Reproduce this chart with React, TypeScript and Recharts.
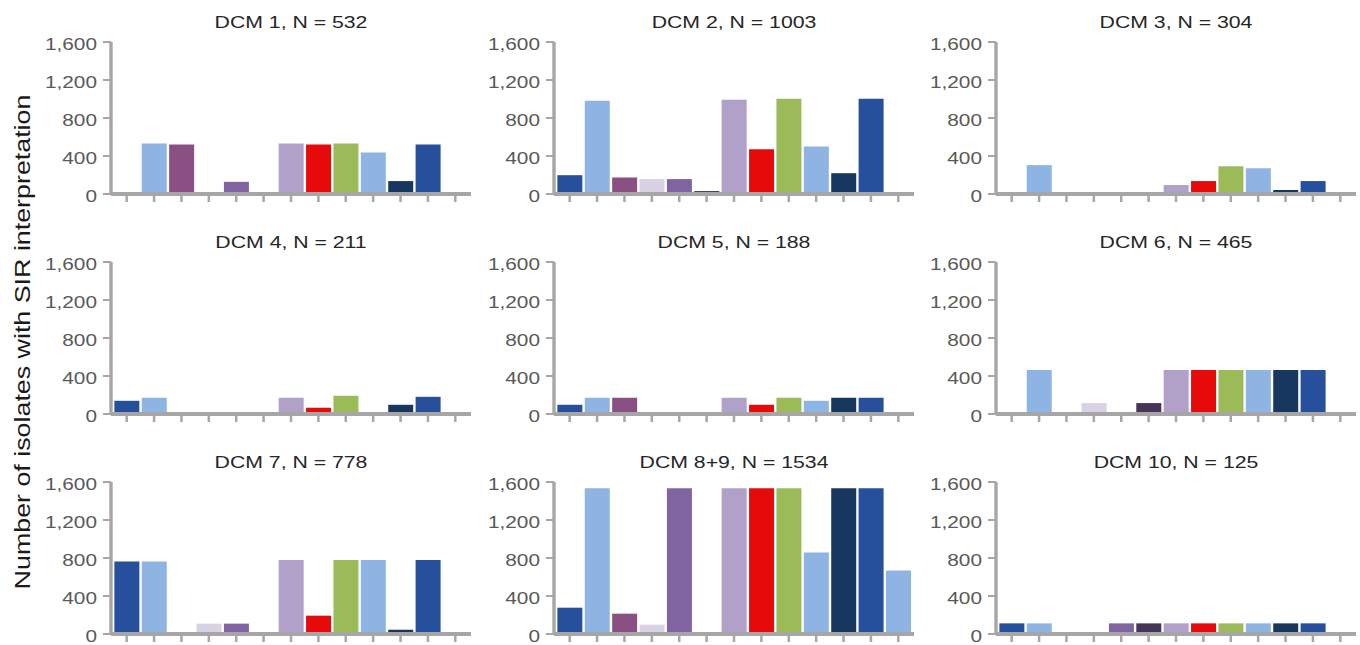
import React from 'react';
import { BarChart, Bar, XAxis, YAxis, Cell } from 'recharts';

// 13 antimicrobial slots, same order and colour in every panel
const categories = ['A1', 'A2', 'A3', 'A4', 'A5', 'A6', 'A7', 'A8', 'A9', 'A10', 'A11', 'A12', 'A13'];
const barColors = [
  '#264f9c', '#8eb4e3', '#8b5083', '#d9d2e5', '#8064a2', '#453659', '#b1a0c7',
  '#e60a0a', '#9bbb59', '#8eb4e3', '#17375e', '#264f9c', '#8eb4e3',
];

const panelTitles = [
  'DCM 1, N = 532', 'DCM 2, N = 1003', 'DCM 3, N = 304',
  'DCM 4, N = 211', 'DCM 5, N = 188', 'DCM 6, N = 465',
  'DCM 7, N = 778', 'DCM 8+9, N = 1534', 'DCM 10, N = 125',
];

const dcm1 = [0, 532, 522, 0, 128, 0, 532, 522, 532, 438, 136, 522, 0];
const dcm2 = [198, 981, 174, 157, 157, 31, 992, 470, 1003, 501, 219, 1003, 0];
const dcm3 = [0, 304, 0, 0, 0, 0, 94, 136, 292, 271, 42, 136, 0];
const dcm4 = [139, 171, 0, 0, 0, 0, 171, 66, 192, 14, 97, 181, 0];
const dcm5 = [97, 171, 171, 0, 0, 0, 171, 97, 171, 139, 171, 171, 0];
const dcm6 = [0, 462, 0, 115, 0, 115, 462, 462, 462, 462, 462, 462, 0];
const dcm7 = [763, 763, 0, 109, 109, 0, 778, 193, 778, 778, 45, 778, 0];
const dcm89 = [277, 1534, 214, 98, 1534, 0, 1534, 1534, 1534, 859, 1534, 1534, 669];
const dcm10 = [112, 112, 0, 0, 112, 112, 112, 112, 112, 112, 112, 112, 0];

const panelValues = [dcm1, dcm2, dcm3, dcm4, dcm5, dcm6, dcm7, dcm89, dcm10];

const yTicks = [0, 400, 800, 1200, 1600];
const yLabel = 'Number of isolates with SIR interpretation';

const FONT = '"Liberation Sans", Arial, sans-serif';
const AXIS_GREY = '#a6a6a6';
const COL_X = [0, 443, 885];
const ROW_Y = [0, 220, 440];

const YTick = (props: any) => {
  const { x, y, payload } = props;
  return (
    <text
      transform={`translate(${x},${y + 2.5}) scale(1.3,1)`}
      textAnchor="end"
      dy="0.355em"
      fill="#595959"
      fontSize={16}
      fontFamily={FONT}
    >
      {Number(payload.value).toLocaleString('en-US')}
    </text>
  );
};

// x axis keeps its tick marks but shows no labels
const NoLabel = () => <g />;

function Panel({ values }: { values: number[] }) {
  const data = categories.map((name, i) => ({ name, value: values[i] }));
  return (
    <BarChart
      width={471}
      height={216}
      data={data}
      margin={{ top: 42, right: 0, bottom: 12, left: 0 }}
      barCategoryGap="5%"
    >
      <XAxis
        dataKey="name"
        padding={{ left: 2, right: 2 }}
        tick={NoLabel}
        interval={0}
        tickSize={8}
        height={10}
        axisLine={{ stroke: AXIS_GREY, strokeWidth: 4 }}
        tickLine={{ stroke: AXIS_GREY, strokeWidth: 2.5 }}
      />
      <YAxis
        width={111}
        domain={[0, 1600]}
        ticks={yTicks}
        interval={0}
        tickSize={8}
        tickMargin={6}
        tick={<YTick />}
        axisLine={{ stroke: AXIS_GREY, strokeWidth: 3.4 }}
        tickLine={{ stroke: AXIS_GREY, strokeWidth: 2 }}
      />
      <Bar dataKey="value" isAnimationActive={false}>
        {data.map((d, i) => (
          <Cell key={d.name} fill={barColors[i]} />
        ))}
      </Bar>
    </BarChart>
  );
}

export default function App() {
  return (
    <div style={{ position: 'absolute', left: 0, top: 0, width: 1360, height: 645, background: '#fff' }}>
      {panelValues.map((vals, i) => (
        <div
          key={panelTitles[i]}
          style={{ position: 'absolute', left: COL_X[i % 3], top: ROW_Y[Math.floor(i / 3)] }}
        >
          <Panel values={vals} />
        </div>
      ))}
      <svg
        width={1360}
        height={645}
        style={{ position: 'absolute', left: 0, top: 0, pointerEvents: 'none' }}
      >
        {panelTitles.map((t, i) => (
          <text
            key={t}
            transform={`translate(${COL_X[i % 3] + 291},${ROW_Y[Math.floor(i / 3)] + 28}) scale(1.25,1)`}
            textAnchor="middle"
            fill="#262626"
            fontSize={17}
            fontFamily={FONT}
          >
            {t}
          </text>
        ))}
        <text
          transform="translate(30,342) rotate(-90) scale(1.22,1)"
          textAnchor="middle"
          fill="#1a1a1a"
          fontSize={22}
          fontFamily={FONT}
        >
          {yLabel}
        </text>
      </svg>
    </div>
  );
}
